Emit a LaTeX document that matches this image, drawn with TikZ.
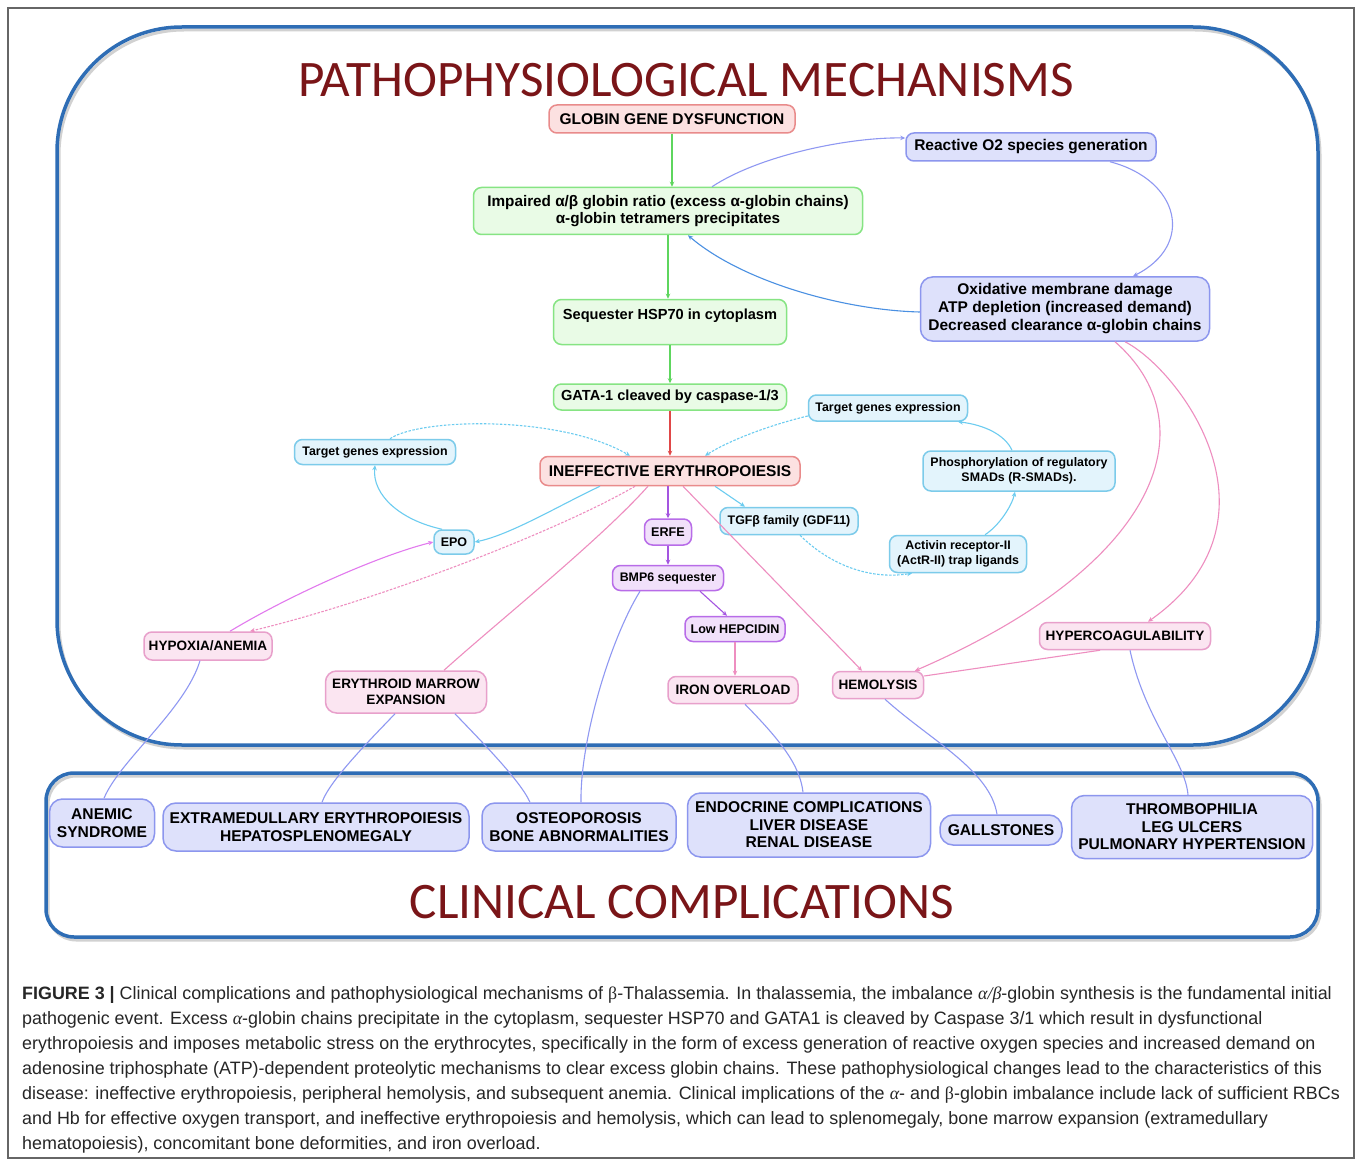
\documentclass[tikz,border=0pt]{standalone}
\usepackage{fontspec}
\setmainfont{Liberation Sans}
\newfontfamily\titlefont{Carlito}
\newfontfamily\grk{Liberation Serif}
\usetikzlibrary{arrows.meta}
\definecolor{redB}{HTML}{E98B8B}\definecolor{redF}{HTML}{FCE1E1}
\definecolor{greenB}{HTML}{86E483}\definecolor{greenF}{HTML}{E9FBE6}
\definecolor{lavB}{HTML}{8C96EE}\definecolor{lavF}{HTML}{DEE1FB}
\definecolor{cyanB}{HTML}{7CCBEA}\definecolor{cyanF}{HTML}{E3F4FC}
\definecolor{purB}{HTML}{B86CE8}\definecolor{purF}{HTML}{F1E0FA}
\definecolor{pinkB}{HTML}{E8A0CB}\definecolor{pinkF}{HTML}{FBE5F1}
\definecolor{greenE}{HTML}{5ED65E}\definecolor{redE}{HTML}{E04848}
\definecolor{lavE}{HTML}{8F98F2}\definecolor{blueE}{HTML}{4A90E2}
\definecolor{cyanE}{HTML}{6CCCF0}\definecolor{purE}{HTML}{A455E0}
\definecolor{magE}{HTML}{E27AEE}\definecolor{pinkE}{HTML}{EE8EC0}
\definecolor{topB}{HTML}{2E6DB5}\definecolor{titleC}{HTML}{7A1518}
\tikzset{
 nb/.style={draw, rounded corners=8pt, line width=1.5pt, align=center, inner sep=0pt, text=black},
 rn/.style={nb, draw=redB, fill=redF, font=\bfseries\fontsize{15.5}{17}\selectfont},
 gn/.style={nb, draw=greenB, fill=greenF, font=\bfseries\fontsize{15.3}{17}\selectfont},
 ln/.style={nb, draw=lavB, fill=lavF, font=\bfseries\fontsize{15.5}{18}\selectfont},
 cn/.style={nb, draw=cyanB, fill=cyanF, font=\bfseries\fontsize{12.4}{14.5}\selectfont},
 pn/.style={nb, draw=purB, fill=purF, font=\bfseries\fontsize{12.6}{14}\selectfont},
 kn/.style={nb, draw=pinkB, fill=pinkF, font=\bfseries\fontsize{13.6}{16}\selectfont},
 bn/.style={nb, rounded corners=13pt, draw=lavB, fill=lavF, font=\bfseries\fontsize{15.6}{17.5}\selectfont},
 sz/.style 2 args={minimum width=#1pt, minimum height=#2pt},
 ed/.style={line width=1.1pt},
 ar/.style={ed, -{Stealth[length=5pt,width=4.5pt]}},
 dt/.style={dash pattern=on 2.5pt off 1.5pt},
 captxt/.style={anchor=base west, inner sep=0pt, text=black!85, font=\fontsize{17.9}{20}\selectfont},
 ttl/.style={anchor=base, inner sep=0pt, text=titleC, font=\titlefont\fontsize{51.2}{60}\selectfont}
}
\begin{document}
\begin{tikzpicture}[x=1pt,y=1pt]
\useasboundingbox (0,0) rectangle (1358,-1161);
\fill[white] (0,0) rectangle (1358,-1161);
\draw[black!60, line width=1.2pt] (8,-8) rectangle (1354,-1158);
% frames
\draw[black!18, line width=3pt, rounded corners=125pt] (59,-30) rectangle (1320,-748);
\draw[topB, line width=3.5pt, rounded corners=125pt] (57,-27) rectangle (1318,-745);
\draw[black!18, line width=3pt, rounded corners=28pt] (48,-776) rectangle (1320,-940);
\draw[topB, line width=3.5pt, rounded corners=28pt] (46,-773) rectangle (1318,-937);
% titles
\node[ttl] (t1) at (686,-97) {PATHOPHYSIOLOGICAL MECHANISMS};
\node[ttl] (t2) at (682,-918) {CLINICAL COMPLICATIONS};
% nodes
\node[rn, sz={246}{28}] (g1) at (672,-119) {GLOBIN GENE DYSFUNCTION};
\node[gn, sz={389}{47}] (g2) at (668,-211) {Impaired α/β globin ratio (excess α-globin chains)\\α-globin tetramers precipitates};
\node[gn, sz={233}{45}, text depth=16pt, font=\bfseries\fontsize{14.6}{17}\selectfont] (g3) at (670,-322) {Sequester HSP70 in cytoplasm};
\node[gn, sz={233}{26}, font=\bfseries\fontsize{14.6}{17}\selectfont] (g4) at (670,-397) {GATA-1 cleaved by caspase-1/3};
\node[ln, sz={250}{28}] (r) at (1031,-147) {Reactive O2 species generation};
\node[ln, sz={289}{64}, rounded corners=12pt] (ox) at (1065,-309) {Oxidative membrane damage\\ATP depletion (increased demand)\\Decreased clearance α-globin chains};
\node[rn, sz={260}{29}] (ie) at (670,-471) {INEFFECTIVE ERYTHROPOIESIS};
\node[cn, sz={161}{25}] (tgl) at (375,-452) {Target genes expression};
\node[cn, sz={159}{26}] (tgr) at (888,-408) {Target genes expression};
\node[cn, sz={192}{40}] (ph) at (1019,-471) {Phosphorylation of regulatory\\SMADs (R-SMADs).};
\node[cn, sz={138}{27}] (tgf) at (789,-521) {TGFβ family (GDF11)};
\node[cn, sz={137}{37}] (act) at (958,-554) {Activin receptor-II\\(ActR-II) trap ligands};
\node[cn, sz={40}{24}, font=\bfseries\fontsize{12.5}{14}\selectfont] (epo) at (454,-542) {EPO};
\node[pn, sz={47}{26}] (erfe) at (668,-532) {ERFE};
\node[pn, sz={111}{25}, font=\bfseries\fontsize{12.4}{14}\selectfont] (bmp) at (668,-578) {BMP6 sequester};
\node[pn, sz={100}{25}] (lh) at (735,-629) {Low HEPCIDIN};
\node[kn, sz={128}{28}] (ha) at (208,-646) {HYPOXIA/ANEMIA};
\node[kn, sz={161}{42}, rounded corners=11pt] (em) at (406,-692) {ERYTHROID MARROW\\EXPANSION};
\node[kn, sz={130}{27}] (io) at (733,-690) {IRON OVERLOAD};
\node[kn, sz={91}{27}] (hem) at (878,-685) {HEMOLYSIS};
\node[kn, sz={171}{27}] (hc) at (1125,-636) {HYPERCOAGULABILITY};
\node[bn, sz={105}{48}] (as) at (102,-823) {ANEMIC\\SYNDROME};
\node[bn, sz={306}{48}] (ex) at (316,-827) {EXTRAMEDULLARY ERYTHROPOIESIS\\HEPATOSPLENOMEGALY};
\node[bn, sz={194}{48}] (os) at (579,-827) {OSTEOPOROSIS\\BONE ABNORMALITIES};
\node[bn, sz={243}{64}] (en) at (809,-825) {ENDOCRINE COMPLICATIONS\\LIVER DISEASE\\RENAL DISEASE};
\node[bn, sz={122}{30}] (ga) at (1001,-830) {GALLSTONES};
\node[bn, sz={241}{63}] (th) at (1192,-827) {THROMBOPHILIA\\LEG ULCERS\\PULMONARY HYPERTENSION};
% green/red chain
\draw[ar, greenE] (g1.south) -- (g1.south |- g2.north);
\draw[ar, greenE] (g2.south) -- (g2.south |- g3.north);
\draw[ar, greenE] (g3.south) -- (g4.north);
\draw[ar, redE] (g4.south) -- (ie.north);
% ROS loop
\draw[ar, lavE] ([xshift=44pt]g2.north) .. controls (760,-155) and (850,-137) .. ([yshift=9pt]r.west);
\draw[ar, lavE] ([xshift=79pt]r.south) .. controls (1180,-180) and (1195,-245) .. ([xshift=68pt]ox.north);
\draw[ar, blueE] ([yshift=-3pt]ox.west) .. controls (840,-310) and (740,-280) .. ([xshift=20pt]g2.south);
\draw[ar, pinkE] ([xshift=60pt]ox.south) .. controls (1180,-370) and (1292,-520) .. ([xshift=23pt]hc.north);
\draw[ar, pinkE] ([xshift=50pt]ox.south) .. controls (1205,-420) and (1170,-560) .. ([xshift=37pt]hem.north);
\draw[ed, pinkE] ([xshift=-25pt]hc.south) -- ([yshift=9pt]hem.east);
% cyan
\draw[ar, cyanE] ([xshift=-70pt]ie.south) .. controls (560,-505) and (510,-535) .. (epo.east);
\draw[ar, cyanE] ([xshift=-12pt]epo.north) .. controls (400,-520) and (372,-495) .. (tgl.south);
\draw[ar, cyanE, dt] ([xshift=15pt]tgl.north) .. controls (420,-418) and (560,-415) .. ([xshift=-40pt]ie.north);
\draw[ar, cyanE, dt] ([yshift=-8pt]tgr.west) .. controls (770,-425) and (730,-440) .. ([xshift=35pt]ie.north);
\draw[ar, cyanE] ([xshift=45pt]ie.south) -- ([xshift=-44pt]tgf.north);
\draw[ar, cyanE, dt] ([xshift=11pt]tgf.south) .. controls (830,-565) and (870,-580) .. ([xshift=-46pt]act.south);
\draw[ar, cyanE] ([xshift=27pt]act.north) .. controls (1000,-525) and (1012,-505) .. ([xshift=-4pt]ph.south);
\draw[ar, cyanE] ([xshift=-7pt]ph.north) .. controls (1005,-435) and (985,-425) .. ([xshift=70pt]tgr.south);
% purple
\draw[ar, purE] (ie.south -| erfe) -- (erfe.north);
\draw[ar, purE] (erfe.south) -- (bmp.north);
\draw[ar, purE] ([xshift=32pt]bmp.south) -- ([xshift=-8pt]lh.north);
\draw[ar, pinkE] (lh.south) -- (lh.south |- io.north);
% pink / magenta
\draw[ar, magE] ([xshift=22pt]ha.north) .. controls (290,-595) and (380,-555) .. (epo.west);
\draw[ar, pinkE, dt] ([xshift=-35pt]ie.south) .. controls (560,-530) and (380,-600) .. ([xshift=42pt]ha.north);
\draw[ed, pinkE] ([xshift=-22pt]ie.south) .. controls (600,-540) and (500,-620) .. ([xshift=38pt]em.north);
\draw[ar, pinkE] ([xshift=13pt]ie.south) -- ([xshift=-16pt]hem.north);
% to clinical complications
\draw[ed, lavE] ([xshift=-28pt]bmp.south) .. controls (610,-640) and (580,-740) .. ([xshift=2pt]os.north);
\draw[ed, lavE] ([xshift=-8pt]ha.south) .. controls (185,-710) and (120,-760) .. ([xshift=2pt]as.north);
\draw[ed, lavE] ([xshift=-11pt]em.south) .. controls (370,-740) and (330,-780) .. ([xshift=6pt]ex.north);
\draw[ed, lavE] ([xshift=49pt]em.south) .. controls (480,-740) and (520,-780) .. ([xshift=-49pt]os.north);
\draw[ed, lavE] ([xshift=12pt]io.south) .. controls (780,-740) and (800,-765) .. ([xshift=-6pt]en.north);
\draw[ed, lavE] ([xshift=7pt]hem.south) .. controls (930,-740) and (990,-770) .. ([xshift=-4pt]ga.north);
\draw[ed, lavE] ([xshift=5pt]hc.south) .. controls (1145,-720) and (1185,-760) .. ([xshift=-4pt]th.north);
% caption
\node[captxt] (c1) at (22,-999) {\textbf{FIGURE 3 |} Clinical complications and pathophysiological mechanisms of {\grk β}-Thalassemia. In thalassemia, the imbalance {\grk\itshape α/β}-globin synthesis is the fundamental initial};
\node[captxt] (c2) at (22,-1024) {pathogenic event. Excess {\grk\itshape α}-globin chains precipitate in the cytoplasm, sequester HSP70 and GATA1 is cleaved by Caspase 3/1 which result in dysfunctional};
\node[captxt] (c3) at (22,-1049) {erythropoiesis and imposes metabolic stress on the erythrocytes, specifically in the form of excess generation of reactive oxygen species and increased demand on};
\node[captxt] (c4) at (22,-1074) {adenosine triphosphate (ATP)-dependent proteolytic mechanisms to clear excess globin chains. These pathophysiological changes lead to the characteristics of this};
\node[captxt] (c5) at (22,-1099) {disease: ineffective erythropoiesis, peripheral hemolysis, and subsequent anemia. Clinical implications of the {\grk\itshape α}- and {\grk β}-globin imbalance include lack of sufficient RBCs};
\node[captxt] (c6) at (22,-1124) {and Hb for effective oxygen transport, and ineffective erythropoiesis and hemolysis, which can lead to splenomegaly, bone marrow expansion (extramedullary};
\node[captxt] (c7) at (22,-1149) {hematopoiesis), concomitant bone deformities, and iron overload.};
\end{tikzpicture}
\end{document}
